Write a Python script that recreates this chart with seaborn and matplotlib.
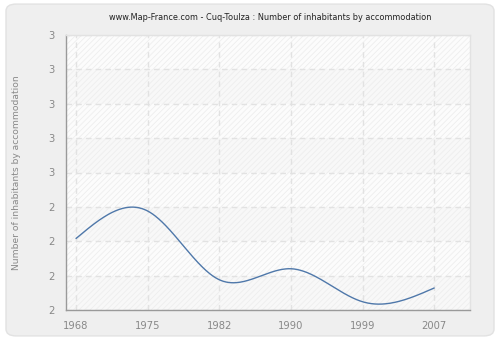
import numpy as np
import pandas as pd
import matplotlib
matplotlib.use("Agg")
import matplotlib.pyplot as plt
from matplotlib.patches import FancyBboxPatch, Rectangle
from matplotlib.ticker import FuncFormatter
import seaborn as sns

years = ["1968", "1975", "1982", "1990", "1999", "2007"]
inhabitants = [2.26, 2.36, 2.11, 2.15, 2.03, 2.08]
y_ticks = [2.0, 2.125, 2.25, 2.375, 2.5, 2.625, 2.75, 2.875, 3.0]
title = "www.Map-France.com - Cuq-Toulza : Number of inhabitants by accommodation"
y_label = "Number of inhabitants by accommodation"


def natural_spline(x, y, n=400):
    """Natural cubic spline through (x, y), evaluated on a fine grid."""
    x = np.asarray(x, float)
    y = np.asarray(y, float)
    k = len(x)
    h = np.diff(x)
    A = np.zeros((k, k))
    b = np.zeros(k)
    A[0, 0] = A[-1, -1] = 1.0
    for i in range(1, k - 1):
        A[i, i - 1] = h[i - 1]
        A[i, i] = 2 * (h[i - 1] + h[i])
        A[i, i + 1] = h[i]
        b[i] = 3 * ((y[i + 1] - y[i]) / h[i] - (y[i] - y[i - 1]) / h[i - 1])
    c = np.linalg.solve(A, b)
    xs = np.linspace(x[0], x[-1], n)
    ys = np.empty_like(xs)
    for j, xv in enumerate(xs):
        i = min(np.searchsorted(x, xv, side="right") - 1, k - 2)
        dx = xv - x[i]
        bi = (y[i + 1] - y[i]) / h[i] - h[i] * (2 * c[i] + c[i + 1]) / 3
        di = (c[i + 1] - c[i]) / (3 * h[i])
        ys[j] = y[i] + bi * dx + c[i] * dx ** 2 + di * dx ** 3
    return xs, ys


sns.set_theme(style="white")
plt.rcParams["font.family"] = ["DejaVu Sans"]

fig = plt.figure(figsize=(5.0, 3.4), dpi=100)
fig.patch.set_facecolor("#ffffff")

# rounded outer frame, drawn behind the axes
frame = FancyBboxPatch((0.012, 0.012), 0.976, 0.976,
                       boxstyle="round,pad=0,rounding_size=0.02",
                       transform=fig.transFigure, facecolor="#efefef",
                       edgecolor="#e2e2e2", linewidth=1.0, zorder=-10)
fig.patches.append(frame)

ax = fig.add_axes([66 / 500, 1 - 310 / 340, (470 - 66) / 500, (310 - 35) / 340])
ax.set_zorder(5)
ax.set_facecolor("#fdfdfd")

# census years are placed at evenly spaced category positions
pos = np.arange(len(years))
x_lo, x_hi = -0.14, 5.5
ax.set_xlim(x_lo, x_hi)
ax.set_ylim(2.0, 3.0)

# alternating bands with faint diagonal hatching
plt.rcParams["hatch.linewidth"] = 0.6
for i in range(len(y_ticks) - 1):
    shade = "#f8f8f8" if i % 2 == 0 else "#fcfcfc"
    ax.add_patch(Rectangle((x_lo, y_ticks[i]), x_hi - x_lo, y_ticks[i + 1] - y_ticks[i],
                           facecolor=shade, edgecolor="#eeeeee", hatch="//////",
                           linewidth=0, zorder=0))

xs, ys = natural_spline(pos, inhabitants)
curve = pd.DataFrame({"pos": xs, "value": ys})
sns.lineplot(data=curve, x="pos", y="value", ax=ax, color="#4f78aa",
             linewidth=1.0, zorder=3)

ax.set_xticks(pos)
ax.set_xticklabels(years)
ax.set_yticks(y_ticks)
ax.yaxis.set_major_formatter(FuncFormatter(lambda v, p: f"{int(np.floor(v + 0.5))}"))

ax.grid(True, color="#e2e2e2", linestyle=(0, (4, 3)), linewidth=1.0, zorder=1)
ax.set_axisbelow(True)

for side in ("left", "bottom"):
    ax.spines[side].set_color("#9a9a9a")
    ax.spines[side].set_linewidth(1.0)
for side in ("top", "right"):
    ax.spines[side].set_color("#e2e2e2")
    ax.spines[side].set_linewidth(1.0)

ax.tick_params(axis="both", colors="#9a9a9a", labelsize=7.2, length=4,
               width=1.0, direction="out", pad=4)
ax.tick_params(axis="both", labelcolor="#888888")

ax.set_xlabel("")
ax.set_ylabel(y_label, color="#888888", fontsize=6.6, labelpad=20)

fig.text(0.54, 1 - 18 / 340, title, ha="center", va="center",
         fontsize=5.9, color="#222222")

fig.savefig("out.png", dpi=100, facecolor=fig.get_facecolor())
